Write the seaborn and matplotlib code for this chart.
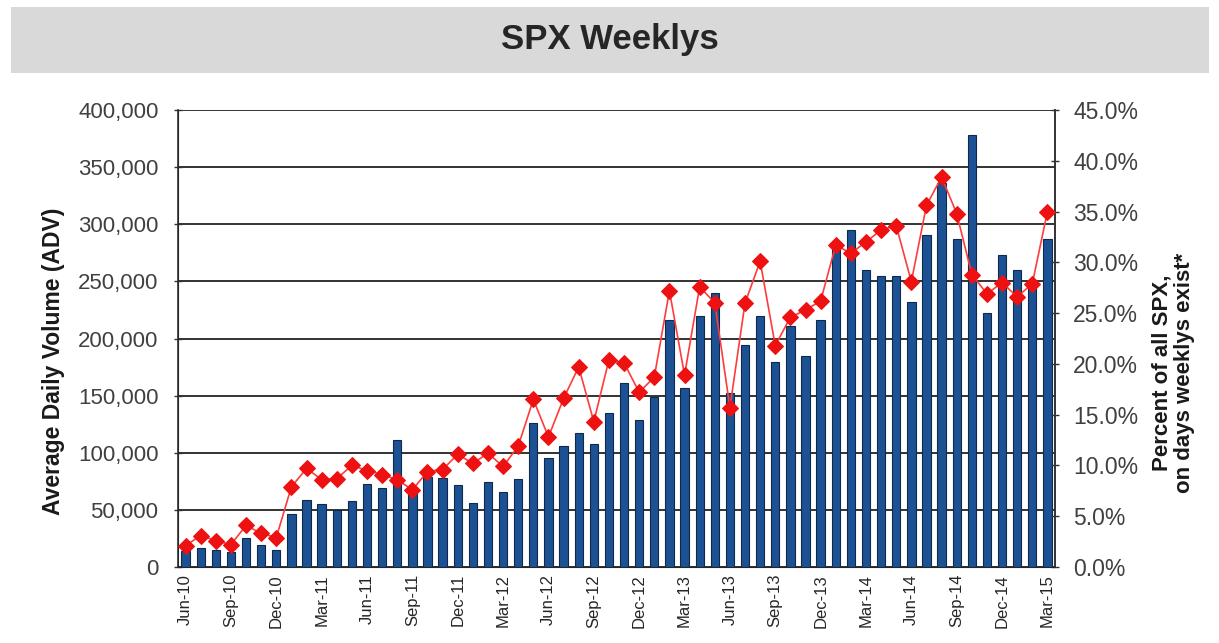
import numpy as np
import pandas as pd
import matplotlib
matplotlib.use("Agg")
import matplotlib.pyplot as plt
import seaborn as sns
from matplotlib.ticker import FuncFormatter, FixedLocator

# monthly data, Jun-10 .. Mar-15
months = pd.date_range("2010-06-01", "2015-03-01", freq="MS").strftime("%b-%y").tolist()

adv = [14000, 17000, 15000, 13000, 25000, 19000, 15000, 46000, 59000, 55000,
       50000, 58000, 73000, 69000, 111000, 70000, 79000, 78000, 72000, 56000,
       74000, 66000, 77000, 126000, 95000, 106000, 117000, 108000, 135000, 161000,
       129000, 149000, 216000, 157000, 220000, 240000, 152000, 194000, 220000, 179000,
       211000, 185000, 216000, 282000, 295000, 260000, 255000, 255000, 232000, 291000,
       336000, 287000, 378000, 222000, 273000, 260000, 247000, 287000]

pct = [2.1, 3.1, 2.6, 2.2, 4.1, 3.3, 2.9, 7.9, 9.7, 8.6,
       8.7, 10.0, 9.5, 9.1, 8.6, 7.6, 9.4, 9.6, 11.1, 10.2,
       11.2, 9.9, 11.9, 16.5, 12.8, 16.6, 19.7, 14.3, 20.4, 20.1,
       17.2, 18.7, 27.2, 18.9, 27.6, 26.0, 15.7, 26.0, 30.1, 21.8,
       24.6, 25.3, 26.2, 31.7, 30.9, 32.0, 33.2, 33.6, 28.1, 35.6,
       38.4, 34.8, 28.8, 26.9, 28.0, 26.6, 27.9, 35.0]

df = pd.DataFrame({"month": months, "adv": adv, "pct": pct})
df["idx"] = np.arange(len(df))

sns.set_style("white")
plt.rcParams["font.family"] = ["Liberation Sans", "DejaVu Sans"]

fig = plt.figure(figsize=(12.19, 6.43), dpi=100)
fig.patch.set_facecolor("white")

# grey title band
band = plt.Rectangle((11 / 1219, 1 - 73 / 643), 1198 / 1219, 66 / 643,
                     transform=fig.transFigure, facecolor="#d9d9d9", edgecolor="none", zorder=0)
fig.patches.append(band)
fig.text(0.5, 1 - 39 / 643, "SPX Weeklys", ha="center", va="center",
         fontsize=25, fontweight="bold", color="#262626")

ax = fig.add_axes([178 / 1219, 1 - 567 / 643, 877 / 1219, 457 / 643])

sns.barplot(data=df, x="month", y="adv", color="#1c5293", edgecolor="#0d2a4d",
            linewidth=0.8, width=0.55, saturation=1, ax=ax, zorder=3)

ax.set_xlim(-0.5, len(df) - 0.5)
ax.set_ylim(0, 400000)
ax.set_yticks(np.arange(0, 400001, 50000))
ax.yaxis.set_major_formatter(FuncFormatter(lambda v, p: f"{int(v):,}"))
ax.grid(axis="y", color="#333333", linewidth=1.4, zorder=0)
ax.set_axisbelow(True)

lab_idx = list(range(0, len(df), 3))
ax.xaxis.set_major_locator(FixedLocator(lab_idx))
ax.set_xticklabels([months[i] for i in lab_idx], rotation=90, fontsize=12, color="#262626")
ax.xaxis.set_minor_locator(FixedLocator([i - 0.5 for i in lab_idx]))
ax.tick_params(axis="x", which="major", length=0, pad=5)
ax.tick_params(axis="x", which="minor", length=5, width=1, color="#333333", direction="out")
ax.tick_params(axis="y", length=6, width=1, direction="inout", labelsize=16, colors="#333333",
               labelcolor="#404040", pad=11)

ax.set_xlabel("")
ax.set_ylabel("Average Daily Volume (ADV)", fontsize=16.5, fontweight="bold", color="#1a1a1a")
ax.yaxis.set_label_coords(-0.129, 0.451)

ax.spines["top"].set_visible(False)
for s in ["left", "bottom", "right"]:
    ax.spines[s].set_color("#333333")
    ax.spines[s].set_linewidth(1.2)

ax2 = ax.twinx()
sns.lineplot(data=df, x="idx", y="pct", ax=ax2, color="#ff3b3b", linewidth=1.2,
             marker="D", markersize=8, markerfacecolor="#ee1111", markeredgecolor="#ee1111", zorder=5)
ax2.set_ylim(0, 45)
ax2.set_yticks(np.arange(0, 45.1, 5))
ax2.yaxis.set_major_formatter(FuncFormatter(lambda v, p: f"{v:.1f}%"))
ax2.tick_params(axis="y", length=6, width=1, direction="inout", labelsize=16.5, colors="#333333",
                labelcolor="#404040", pad=10)
ax2.set_xlim(-0.5, len(df) - 0.5)
ax2.set_xlabel("")
ax2.set_ylabel("Percent of all SPX,\non days weeklys exist*", fontsize=16, fontweight="bold",
               color="#1a1a1a", linespacing=1.05)
ax2.yaxis.set_label_coords(1.1106, 0.425)
ax2.spines["top"].set_visible(False)
ax2.spines["right"].set_color("#333333")
ax2.spines["right"].set_linewidth(1.2)
ax2.grid(False)

fig.savefig("out.png", dpi=100)
